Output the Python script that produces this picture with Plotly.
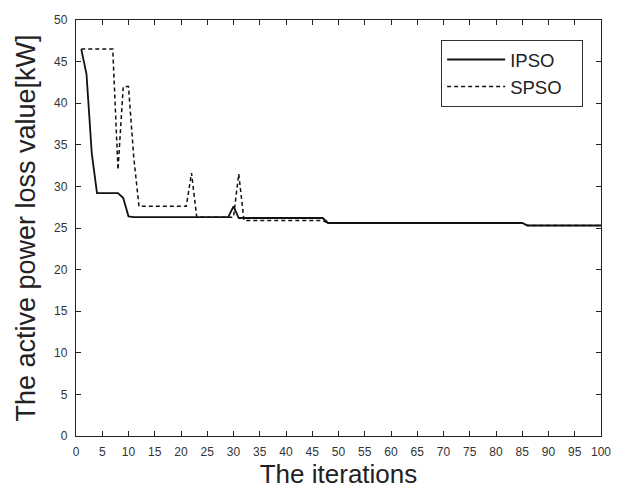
import plotly.graph_objects as go

iterations = list(range(1, 101))

ipso = ([46.5, 43.5, 34.0, 29.2, 29.2, 29.2, 29.2, 29.2, 28.6, 26.4]
        + [26.3] * 19          # 11-29
        + [27.6, 26.2]         # 30-31
        + [26.2] * 16          # 32-47
        + [25.6] * 38          # 48-85
        + [25.3] * 15)         # 86-100

spso = ([46.5] * 7             # 1-7
        + [32.0, 42.0, 42.0, 33.5]   # 8-11
        + [27.6] * 10          # 12-21
        + [31.6]               # 22
        + [26.3] * 7           # 23-29
        + [26.3, 31.5]         # 30-31
        + [25.9] * 16          # 32-47
        + [25.6] * 38          # 48-85
        + [25.3] * 15)         # 86-100

x_ticks = list(range(0, 101, 5))
y_ticks = list(range(0, 51, 5))

pad = "\u00a0" * 3

fig = go.Figure()
fig.add_trace(go.Scatter(x=iterations, y=ipso, mode="lines", name="IPSO" + pad,
                         line=dict(color="#111111", width=1.8)))
fig.add_trace(go.Scatter(x=iterations, y=spso, mode="lines", name="SPSO" + pad,
                         line=dict(color="#111111", width=1.5, dash="4px,3px")))

axis_common = dict(showline=True, linecolor="#222222", linewidth=1.3, mirror="ticks",
                   ticks="inside", ticklen=5, tickcolor="#222222", showgrid=False,
                   zeroline=False, tickfont=dict(family="Liberation Sans, Arial", size=12, color="#333333"))

fig.update_layout(
    width=625, height=491,
    margin=dict(l=76, r=24, t=20, b=53),
    paper_bgcolor="white", plot_bgcolor="white",
    font=dict(family="Liberation Sans, Arial", color="#222222"),
    xaxis=dict(range=[0, 100], tickvals=x_ticks, ticktext=[str(v) for v in x_ticks],
               ticklabelstandoff=4,
               title=dict(text="The iterations", font=dict(size=26), standoff=2), **axis_common),
    yaxis=dict(range=[0, 50], tickvals=y_ticks, ticktext=[str(v) for v in y_ticks],
               ticklabelstandoff=5,
               title=dict(text="The active power loss value[kW]", font=dict(size=27), standoff=10), **axis_common),
    legend=dict(x=0.966, y=0.952, xanchor="right", yanchor="top",
                bordercolor="#333333", borderwidth=1, bgcolor="white",
                font=dict(size=18.5, color="#222222"), itemwidth=58,
                tracegroupgap=0),
    showlegend=True,
)

fig.write_html("out.html", config={"displayModeBar": False},
               post_script="document.body.style.margin='0px';document.body.style.overflow='hidden';")
